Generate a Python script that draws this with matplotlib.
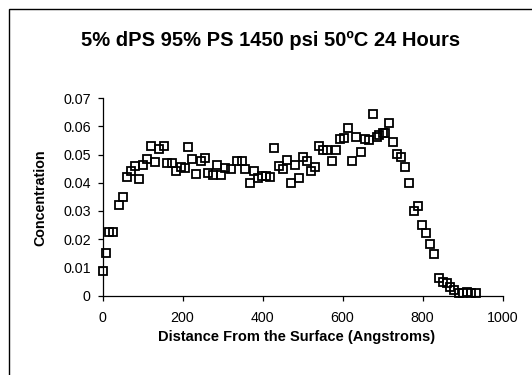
import numpy as np
import matplotlib
matplotlib.use("Agg")
import matplotlib.pyplot as plt
from matplotlib.patches import Rectangle

plt.rcParams['font.family'] = ['Liberation Sans', 'DejaVu Sans']

# depth profile: distance (Angstroms) vs concentration
distance = [0, 9, 16, 27, 40, 50, 60, 70, 80, 90, 100, 110, 121, 132, 142, 154,
            162, 173, 184, 195, 205, 213, 224, 234, 245, 255, 264, 275, 285, 296,
            306, 322, 337, 348, 357, 369, 379, 389, 399, 409, 419, 429, 440, 450,
            460, 470, 481, 491, 501, 511, 522, 532, 542, 551, 561, 573, 583, 594,
            604, 614, 624, 634, 645, 655, 665, 676, 686, 692, 700, 706, 716, 726,
            736, 746, 757, 767, 778, 789, 798, 809, 819, 829, 840, 851, 862, 869,
            879, 890, 900, 910, 921, 933]
concentration = [0.0087, 0.0152, 0.0226, 0.0226, 0.0320, 0.0348, 0.0419, 0.0441,
                 0.0458, 0.0414, 0.0462, 0.0484, 0.0529, 0.0474, 0.0521, 0.0530,
                 0.0469, 0.0470, 0.0441, 0.0457, 0.0453, 0.0527, 0.0483, 0.0430,
                 0.0477, 0.0487, 0.0435, 0.0427, 0.0464, 0.0426, 0.0451, 0.0449,
                 0.0478, 0.0478, 0.0449, 0.0398, 0.0441, 0.0416, 0.0424, 0.0424,
                 0.0421, 0.0524, 0.0459, 0.0450, 0.0482, 0.0400, 0.0462, 0.0416,
                 0.0492, 0.0478, 0.0441, 0.0456, 0.0530, 0.0516, 0.0516, 0.0478,
                 0.0516, 0.0556, 0.0559, 0.0595, 0.0478, 0.0562, 0.0510, 0.0556,
                 0.0551, 0.0645, 0.0562, 0.0569, 0.0577, 0.0577, 0.0611, 0.0545,
                 0.0504, 0.0490, 0.0457, 0.0400, 0.0301, 0.0317, 0.0250, 0.0223,
                 0.0183, 0.0146, 0.0063, 0.0049, 0.0045, 0.0031, 0.0020, 0.0010,
                 0.0008, 0.0013, 0.0010, 0.0010]

x_ticks = [0, 200, 400, 600, 800, 1000]
y_ticks = [0, 0.01, 0.02, 0.03, 0.04, 0.05, 0.06, 0.07]
y_tick_labels = ['0', '0.01', '0.02', '0.03', '0.04', '0.05', '0.06', '0.07']

fig = plt.figure(figsize=(5.32, 3.75), dpi=100)
ax = fig.add_axes([0.1927, 0.2120, 0.7519, 0.5259])

ax.plot(distance, concentration, linestyle='none', marker='s', markersize=6,
        markerfacecolor='none', markeredgecolor='black', markeredgewidth=1.3,
        clip_on=False)

ax.set_xlim(0, 1000)
ax.set_ylim(0, 0.07)
ax.set_xticks(x_ticks)
ax.set_yticks(y_ticks)
ax.set_yticklabels(y_tick_labels)

for side in ['top', 'right']:
    ax.spines[side].set_visible(False)
for side in ['left', 'bottom']:
    ax.spines[side].set_color('black')
    ax.spines[side].set_linewidth(0.9)

ax.tick_params(axis='x', direction='out', length=3.5, width=0.9, pad=8,
               labelsize=10.3)
ax.tick_params(axis='y', direction='out', length=3.5, width=0.9, pad=5,
               labelsize=10.3)

ax.set_xlabel('Distance From the Surface (Angstroms)', fontsize=10.5,
              fontweight='bold')
ax.xaxis.set_label_coords(0.485, -0.175)
ax.set_ylabel('Concentration', fontsize=10.3, fontweight='bold')
ax.yaxis.set_label_coords(-0.138, 0.494)

fig.text(0.509, 0.891, '5% dPS 95% PS 1450 psi 50ºC 24 Hours',
         ha='center', va='center', fontsize=14.5, fontweight='bold')

# chart area frame
fig.patches.append(Rectangle((9 / 532, -0.1), 1.2, 1 - 9 / 375 + 0.1,
                             transform=fig.transFigure, fill=False,
                             edgecolor='black', linewidth=1.0))

fig.savefig('out.png', dpi=100)
